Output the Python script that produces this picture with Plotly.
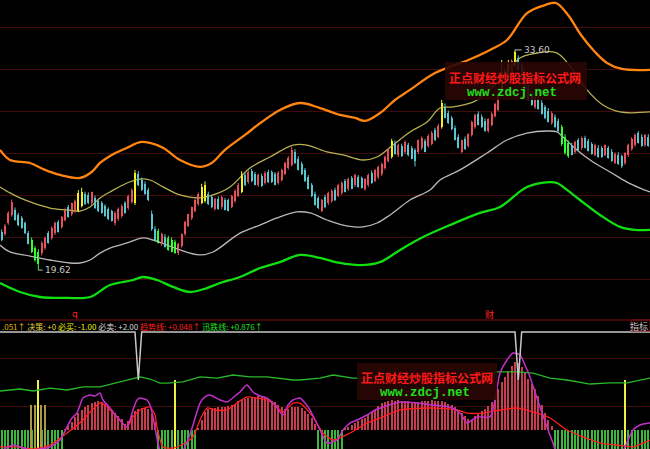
import plotly.graph_objects as go

# ---------------- main pane: candles (price) ----------------
opens = [22.05, 21.90, 22.60, 23.10, 23.45, 23.10, 22.90, 22.60, 22.00, 21.55,
         21.05, 20.80, 20.70, 21.00, 21.95, 21.65, 21.95, 22.65, 22.35, 22.80,
         23.60, 23.15, 23.35, 23.40, 23.70, 24.45, 24.40, 23.85, 24.20, 24.00,
         23.85, 23.70, 23.50, 23.35, 22.60, 22.85, 23.05, 23.85, 23.55, 23.95,
         23.90, 25.70, 25.35, 25.10, 24.70, 23.20, 22.25, 22.10, 21.25, 21.75,
         21.65, 21.55, 21.40, 20.70, 21.15, 21.90, 22.45, 22.90, 23.40, 23.80,
         23.90, 24.00, 24.45, 24.25, 23.50, 24.15, 23.60, 24.05, 24.05, 23.65,
         24.00, 24.35, 24.60, 25.65, 25.20, 25.90, 25.70, 25.00, 25.60, 25.15,
         25.85, 25.85, 25.70, 25.15, 25.35, 25.75, 26.10, 26.30, 27.10, 26.70,
         26.35, 25.95, 25.50, 25.00, 24.45, 24.20, 23.40, 24.25, 23.85, 24.00,
         24.70, 24.35, 24.50, 25.25, 24.75, 25.45, 25.00, 25.50, 25.45, 24.75,
         25.00, 25.80, 25.30, 25.50, 25.70, 26.10, 26.55, 26.80, 27.70, 26.90,
         27.50, 27.10, 27.55, 27.35, 27.25, 27.10, 27.35, 27.80, 27.50, 27.65,
         28.50, 28.10, 28.70, 30.00, 29.60, 29.25, 28.65, 28.10, 27.15, 27.95,
         27.50, 28.20, 28.70, 29.55, 29.35, 29.10, 28.45, 28.85, 29.40, 29.80,
         31.00, 31.50, 31.70, 32.10, 32.60, 33.10, 32.60, 32.00, 31.30, 30.85,
         29.95, 30.50, 30.25, 29.95, 29.75, 28.95, 29.35, 29.10, 28.70, 28.10,
         27.70, 27.55, 27.10, 27.85, 27.35, 28.00, 27.80, 27.60, 26.95, 27.40,
         27.40, 26.95, 27.35, 27.15, 26.45, 26.95, 26.85, 26.40, 26.90, 27.30,
         27.55, 28.30, 28.10, 27.55, 28.10]
highs = [22.20, 22.55, 23.35, 24.10, 23.60, 23.25, 23.05, 22.70, 22.10, 21.70,
         21.15, 20.95, 21.45, 21.75, 22.10, 22.40, 22.70, 22.80, 23.05, 23.55,
         23.75, 23.90, 24.10, 24.70, 24.85, 24.60, 24.55, 24.60, 24.35, 24.15,
         24.00, 23.80, 23.60, 23.45, 23.35, 23.60, 23.80, 24.00, 24.40, 24.80,
         25.98, 25.90, 25.50, 25.25, 24.85, 23.40, 22.40, 22.25, 22.00, 21.90,
         21.80, 21.70, 21.55, 21.35, 21.95, 22.75, 23.20, 23.65, 24.15, 24.55,
         25.10, 25.25, 24.60, 24.40, 24.20, 24.30, 24.35, 24.20, 24.15, 24.40,
         24.75, 25.15, 25.90, 25.80, 25.95, 26.05, 25.85, 25.75, 25.75, 25.90,
         26.00, 25.95, 25.85, 25.90, 26.05, 26.50, 26.85, 27.44, 27.30, 26.85,
         26.50, 26.10, 25.65, 25.15, 24.60, 24.30, 24.15, 24.40, 24.60, 24.75,
         24.85, 25.10, 25.25, 25.40, 25.50, 25.60, 25.75, 25.65, 25.55, 25.45,
         25.75, 25.95, 26.05, 26.25, 26.45, 26.90, 27.35, 27.95, 27.85, 27.65,
         27.65, 27.85, 27.70, 27.50, 27.35, 27.90, 28.10, 27.95, 28.25, 28.45,
         28.65, 28.90, 30.42, 30.20, 29.75, 29.40, 28.80, 28.25, 27.90, 28.10,
         28.30, 29.10, 29.55, 29.70, 29.50, 29.25, 29.25, 29.65, 30.25, 30.93,
         32.96, 32.45, 32.96, 33.00, 33.60, 33.25, 32.75, 32.15, 31.45, 31.00,
         30.70, 30.65, 30.40, 30.10, 29.90, 29.70, 29.50, 29.25, 28.85, 28.25,
         27.85, 27.70, 27.85, 28.00, 28.10, 28.15, 27.95, 27.75, 27.65, 27.55,
         27.50, 27.60, 27.50, 27.30, 27.10, 27.10, 26.95, 27.10, 27.65, 28.05,
         28.30, 28.45, 28.25, 28.25, 28.25]
lows = [21.45, 21.80, 22.50, 23.00, 22.75, 22.40, 22.25, 21.90, 21.25, 20.70,
        20.15, 19.62, 20.55, 20.90, 21.30, 21.55, 21.85, 22.00, 22.25, 22.70,
        22.95, 23.05, 23.25, 23.30, 23.60, 23.75, 23.80, 23.75, 23.50, 23.30,
        23.20, 23.00, 22.80, 22.70, 22.45, 22.75, 22.95, 23.20, 23.45, 23.85,
        23.75, 24.95, 24.65, 24.40, 24.00, 22.10, 21.45, 21.30, 21.15, 21.05,
        20.85, 20.75, 20.65, 20.58, 21.05, 21.80, 22.35, 22.80, 23.30, 23.70,
        23.80, 23.90, 23.75, 23.55, 23.40, 23.45, 23.50, 23.40, 23.35, 23.55,
        23.90, 24.25, 24.50, 24.95, 25.10, 25.20, 25.00, 24.90, 24.90, 25.05,
        25.15, 25.15, 25.00, 25.05, 25.25, 25.65, 26.00, 26.20, 26.35, 25.95,
        25.65, 25.20, 24.75, 24.25, 23.70, 23.50, 23.30, 23.55, 23.75, 23.90,
        24.00, 24.25, 24.40, 24.55, 24.65, 24.75, 24.90, 24.85, 24.80, 24.65,
        24.90, 25.10, 25.20, 25.40, 25.60, 26.00, 26.45, 26.70, 26.95, 26.80,
        26.80, 27.00, 26.85, 26.65, 26.20, 27.00, 27.25, 27.10, 27.40, 27.55,
        27.80, 28.00, 28.60, 29.25, 28.90, 28.50, 27.85, 27.35, 27.05, 27.25,
        27.40, 28.10, 28.60, 28.80, 28.65, 28.40, 28.35, 28.75, 29.30, 29.70,
        30.90, 31.40, 31.60, 32.00, 32.50, 32.30, 31.75, 31.10, 30.40, 30.05,
        29.85, 29.80, 29.50, 29.20, 29.00, 28.85, 28.65, 28.40, 27.50, 26.95,
        26.75, 26.90, 27.00, 27.20, 27.25, 27.35, 27.15, 26.95, 26.85, 26.75,
        26.75, 26.85, 26.70, 26.50, 26.35, 26.30, 26.10, 26.30, 26.80, 27.20,
        27.45, 27.65, 27.45, 27.45, 27.45]
closes = [21.50, 22.45, 23.25, 23.95, 22.80, 22.50, 22.30, 21.95, 21.30, 20.80,
          20.25, 20.00, 21.35, 21.65, 21.35, 22.30, 22.60, 22.05, 23.00, 23.45,
          23.00, 23.85, 24.00, 24.50, 24.60, 23.80, 23.85, 24.55, 23.55, 23.35,
          23.25, 23.05, 22.85, 22.75, 23.25, 23.50, 23.70, 23.25, 24.30, 24.70,
          25.80, 25.00, 24.70, 24.45, 24.05, 22.20, 21.50, 21.35, 21.90, 21.10,
          20.90, 20.80, 20.70, 21.25, 21.90, 22.65, 23.15, 23.60, 24.10, 24.45,
          24.90, 25.05, 23.80, 23.60, 24.15, 23.50, 24.25, 23.45, 23.40, 24.35,
          24.65, 25.05, 25.70, 25.00, 25.85, 25.25, 25.05, 25.65, 24.95, 25.80,
          25.20, 25.20, 25.05, 25.80, 25.95, 26.45, 26.75, 27.25, 26.40, 26.00,
          25.70, 25.25, 24.80, 24.30, 23.75, 23.55, 24.05, 23.60, 24.50, 24.65,
          24.05, 25.00, 25.15, 24.60, 25.40, 24.80, 25.65, 24.90, 24.85, 25.40,
          25.65, 25.15, 25.95, 26.15, 26.35, 26.80, 27.25, 27.80, 27.00, 27.55,
          26.85, 27.75, 26.90, 26.70, 26.55, 27.85, 28.00, 27.15, 28.15, 28.35,
          27.85, 28.80, 30.20, 29.30, 28.95, 28.55, 27.90, 27.40, 27.85, 27.30,
          28.25, 29.05, 29.45, 28.85, 28.70, 28.45, 29.20, 29.55, 30.15, 30.85,
          32.20, 32.35, 32.70, 32.90, 33.45, 32.35, 31.80, 31.15, 30.45, 30.10,
          30.60, 29.85, 29.55, 29.25, 29.05, 29.60, 28.70, 28.45, 27.60, 27.05,
          26.85, 26.95, 27.75, 27.25, 28.00, 27.40, 27.20, 27.00, 27.55, 26.80,
          26.80, 27.55, 26.75, 26.55, 27.00, 26.35, 26.20, 27.05, 27.55, 27.95,
          28.20, 27.70, 27.50, 28.20, 27.50]
# r = up, c = down, y = upper-band signal, g = lower-band signal
kinds = ("crrrcccccg" "ggrrcrrcrr" "crryyccrcc" "ccccrrrcrr" "yccccccgrc"
         "gggrrrrrrr" "yyccrcrccr" "rrycrccrcr" "cccrrrrrcc" "ccccccrcrr"
         "crrcrcrccr" "rcrrrrrycr" "crcccrrcrr" "crycccccrc" "rrrcccrrrr"
         "yryryccccc" "rccccrccgg" "gcrcrcccrc" "crccrccrrr" "rccrc")
assert len(opens) == len(highs) == len(lows) == len(closes) == len(kinds)

# ---------------- main pane: bands ----------------
orange_x = [-0.5, 2.5, 8.5, 13, 17.5, 23.5, 27, 29.5, 33, 37.5, 41.5, 44.5, 48.5, 53.5, 59.5,
            63, 67, 73, 78, 83.5, 89.5, 95.5, 101.5, 106, 109, 113.5, 118, 122.5, 130, 140,
            146.5, 151.6, 157.6, 163, 166.3, 169.9, 173.8, 178, 181.6, 186.1, 194.5]
orange_v = [27.25, 26.61, 26.42, 25.98, 25.66, 25.47, 25.85, 26.42, 26.93, 27.37, 27.75, 27.69,
            27.37, 26.61, 26.17, 26.42, 27.25, 28.20, 29.02, 29.79, 30.23, 29.91, 29.47, 29.28,
            29.09, 29.59, 30.42, 31.06, 32.13, 32.96, 33.60, 34.23, 35.94, 36.45, 36.58, 35.82,
            34.55, 33.47, 32.77, 32.39, 32.33]
upper_x = [-0.5, 2.5, 5.5, 9.4, 14.5, 19.6, 23.5, 26.5, 29.5, 32.5, 37.6, 41.5, 44.5, 48.4, 53.5,
           59.5, 63.4, 68.5, 74.5, 80.5, 87.4, 91.6, 97.6, 102.4, 108.4, 112.6, 117.4, 122.5,
           127.6, 131.5, 135.4, 141.4, 143.5, 149.5, 155.5, 160.6, 165.4, 167.5, 171.4, 175.6,
           180.4, 185.5, 194.5]
upper_v = [24.90, 24.52, 24.20, 23.88, 23.56, 23.44, 23.37, 23.63, 24.20, 24.58, 25.15, 25.40,
           25.34, 24.90, 24.39, 24.20, 24.39, 24.90, 26.10, 26.80, 27.56, 27.56, 27.12, 26.93,
           26.61, 26.80, 27.56, 28.39, 29.02, 29.91, 29.98, 30.29, 30.55, 31.69, 33.09, 33.40,
           33.47, 33.28, 32.33, 31.06, 30.10, 29.66, 29.66]
mid_x = [-0.5, 2.5, 8.5, 14.5, 20.5, 23.5, 26.5, 29.5, 32.5, 37.6, 42.4, 45.4, 49.6, 53.5, 59.5,
         63.4, 71.5, 77.5, 82.6, 88.6, 92.5, 97.6, 102.4, 108.4, 112.6, 116.5, 122.5, 128.5,
         131.5, 137.5, 145.6, 151.6, 157.6, 163.6, 166.6, 168.4, 172.6, 177.4, 182.5, 187.6,
         191.5, 194.5]
mid_v = [21.21, 20.77, 20.51, 20.26, 20.07, 20.07, 20.26, 20.70, 21.02, 21.34, 21.66, 21.53,
         21.21, 20.90, 20.58, 20.77, 21.97, 22.48, 22.93, 23.31, 23.25, 22.80, 22.48, 22.36,
         22.61, 23.12, 24.07, 24.71, 25.34, 25.98, 27.05, 27.88, 28.32, 28.45, 28.39, 28.07,
         27.25, 26.48, 25.85, 25.21, 24.83, 24.58]
lower_x = [-0.5, 5.5, 11.5, 19.6, 26.5, 32.5, 39.4, 42.4, 46.6, 51.4, 56.5, 61.6, 65.5, 71.5,
           77.5, 83.5, 89.5, 95.5, 101.5, 107.5, 113.5, 119.5, 126.4, 134.5, 143.5, 149.5,
           157.6, 164.5, 166.6, 169.6, 173.5, 179.5, 185.5, 190, 194.5]
lower_v = [18.80, 18.23, 17.91, 17.85, 17.91, 18.67, 18.99, 19.18, 18.99, 18.55, 18.23, 18.48,
           18.80, 19.18, 19.75, 20.13, 20.58, 20.39, 20.07, 19.94, 20.13, 20.90, 21.72, 22.48,
           23.25, 23.63, 24.90, 25.21, 25.15, 24.71, 24.07, 23.12, 22.36, 22.17, 22.17]

# ---------------- lower pane: indicator ----------------
hist = [-20, -20, -20, -20, -20, -20, -20, -20, -20, -20, -20, -20, -20, -20, -20, -20, -20, -20, -20,
        1,
        4, 8, 13, 17, 20, 23, 26, 28, 29, 30, 29, 27, 24, 20, 17, 14, 11, 6, 9, 15, 19, 21, 22, 22,
        21, 16, 8,
        -20, -20, -20, -20, -20, -20, -20, -20, -20, -20, -20, -20,
        2,
        10, 18, 21, 22, 22, 23, 23, 23, 24, 25, 27, 30, 31, 32, 33, 34, 34, 35, 34, 33, 32, 30, 29,
        26, 23, 21, 21, 23, 23, 23, 22, 19, 16, 12, 6,
        -20, -20, -20, -20, -20, -20, -20, -20,
        2, 3, 5, 7, 9, 11, 12, 15, 18, 20, 24, 28, 29, 30, 31, 30, 31, 30, 30, 30, 29, 28, 29, 30,
        30, 30, 31, 30, 30, 30, 29, 27, 25, 23, 20, 17, 14, 11, 10, 14, 17, 19, 21, 24, 29, 33, 42,
        49, 54, 60, 65, 69, 68, 64, 59, 52, 47, 42, 35, 26, 17, 10, 4,
        -20, -20, -20, -20, -20, -20, -20, -20, -20, -20, -20, -20, -20, -20, -20, -20, -20, -20,
        -20, -20, -20, -20, -20, -20, -20, -20, -20, -20, -20]
assert len(hist) == len(closes)
signal_x = [9, 10, 11, 12, 13, 52, 187]
signal_top = [25, 25, 51, 25, 25, 51, 51]
signal_strong = [False, False, True, False, False, True, True]

top_x = [-0.5, 40, 41, 42, 154, 155, 156, 194.5]
top_v = [100, 100, 51, 100, 100, 51, 100, 100]

trend_x = [-0.5, 5.5, 9.4, 14.5, 19.6, 24.4, 29.5, 34.6, 38.5, 41.5, 44.5, 47.5, 49.6, 54.4, 59.5,
           64.6, 69.4, 74.5, 79.6, 84.4, 87.4, 89.5, 95.5, 99.4, 105.4, 113.5, 125.5, 137.5, 148.6,
           154.6, 159.4, 164.5, 169.6, 176.5, 182.5, 187.6, 194.5]
trend_v = [39.8, 41.8, 39.8, 42.8, 40.8, 43.9, 43.9, 47.9, 51.0, 54.1, 52.0, 47.9, 47.9, 49.0, 54.1,
           53.0, 56.1, 54.1, 54.1, 52.0, 51.0, 51.0, 53.0, 56.1, 53.0, 53.0, 55.1, 54.1, 59.2, 59.2,
           58.1, 53.0, 51.0, 46.9, 48.0, 48.0, 53.0]

fast_x = [-0.5, 3.4, 8.5, 14.5, 17.5, 19.6, 21.1, 22.6, 24.4, 26.5, 28, 29.5, 30.4, 32.5, 34.6, 37.6,
          39.4, 40.6, 41.5, 43.6, 44.5, 45.4, 46.9, 48.1, 53.5, 55.9, 57.4, 59.5, 61, 62.5, 65.5,
          67.6, 70, 71.5, 73.6, 75.4, 77.5, 79.6, 82, 84.4, 85.9, 87.4, 89.5, 91, 92.5, 95.5, 97.6,
          100.6, 102.4, 104.5, 106.6, 109.6, 112, 114.4, 119.5, 124.6, 129.4, 134.5, 137.5, 139.6,
          141.1, 142.6, 146.5, 148, 149.5, 151.6, 153.4, 155.5, 157, 158.5, 160, 161.5, 163.6,
          165.4, 166.9, 185.5, 187.9, 189.4, 191.5, 194.5]
fast_v = [-22, -15.3, -20.4, -17.3, -10.2, 3.1, 12.2, 17.3, 32.6, 35.7, 34.7, 37.7, 30.6, 22.4, 13.3,
          3.1, 20.4, 30.6, 32.6, 30.6, 25.5, 13.3, -13.3, -25.5, -25.5, -10.2, 5.1, 27.5, 33.7,
          35.7, 30.6, 28.6, 34.7, 38.8, 45.9, 38.8, 34.7, 32.6, 25.5, 15.3, 25.5, 30.6, 32.6, 27.5,
          20.4, 0, -13.3, -10.2, 0, 7.1, 10.2, 15.3, 20.4, 23.5, 28.6, 27.5, 25.5, 23.5, 17.3, 7.1,
          10.2, 13.3, 13.3, 30.6, 58.1, 71.4, 78.5, 76.5, 66.3, 54.1, 38.8, 23.5, 3.1, -13.3, -25.5,
          -25.5, -10.2, 0, 5.1, 7.1]
slow_x = [-0.5, 4.6, 10, 14.5, 19.6, 22, 24.4, 27.1, 29.5, 31, 32.5, 34.9, 37.6, 39.4, 41.5, 44.5,
          46, 46.6, 48.4, 51.4, 55, 57.4, 59.5, 61.6, 64, 67.6, 70.6, 73.6, 76.6, 79.6, 82, 84.4,
          87.4, 89.5, 93.4, 96.4, 99.4, 104.5, 109.6, 114.4, 119.5, 129.4, 136.6, 139.6, 144.4,
          149.5, 154.6, 159.4, 164.5, 169.6, 174.4, 179.5, 184.6, 189.4, 192.4, 194.5]
slow_v = [-17.3, -17.3, -19.4, -15.3, -3.1, 3.1, 10.2, 20.4, 27.5, 25.5, 20.4, 12.2, 3.1, 13.3, 20.4,
          23.5, 15.3, 3.1, -17.3, -18.4, -13.3, -7.1, 10.2, 22.4, 20.4, 20.4, 27.5, 33.7, 32.6,
          30.6, 25.5, 18.4, 27.5, 27.5, 13.3, -3.1, -10.2, -3.1, 7.1, 13.3, 20.4, 22.4, 20.4, 17.3,
          17.3, 20.4, 22.4, 18.4, 12.2, 0, -7.1, -13.3, -15.3, -17.3, -13.3, -10.2]

info_text = ("<span style='color:#e0b000'>.051↑</span> "
             "<span style='color:#e0d040'>决策: +0</span> "
             "<span style='color:#f0f000'>必买: -1.00</span> "
             "<span style='color:#d8d8d8'>必卖: +2.00</span> "
             "<span style='color:#ff2020'>趋势线: +0.048↑</span> "
             "<span style='color:#20e020'>迅跌线: +0.876↑</span>")

# ---------------- figure ----------------
fig = go.Figure()
idx = list(range(len(closes)))
palette = {'r': '#e8505c', 'c': '#58c8d0', 'y': '#f4f020', 'g': '#30ff30'}

band_specs = [(orange_x, orange_v, '#ff8410', 2.3), (upper_x, upper_v, '#b8b050', 1.3),
              (mid_x, mid_v, '#b8b8b8', 1.3), (lower_x, lower_v, '#10e010', 2.3)]
for bx, bv, col, w in band_specs:
    fig.add_trace(go.Scatter(x=bx, y=bv, mode='lines', line=dict(color=col, width=w, shape='spline', smoothing=1.0),
                             hoverinfo='skip', yaxis='y'))

for k, col in palette.items():
    sel = [i for i in idx if kinds[i] == k]
    wx, wy = [], []
    for i in sel:
        wx += [i, i, None]
        wy += [lows[i], highs[i], None]
    fig.add_trace(go.Scatter(x=wx, y=wy, mode='lines', line=dict(color=col, width=1),
                             hoverinfo='skip', yaxis='y'))
    fig.add_trace(go.Bar(x=sel, y=[abs(closes[i] - opens[i]) for i in sel],
                         base=[min(opens[i], closes[i]) for i in sel], width=0.62,
                         marker=dict(color=col, line=dict(width=0)), yaxis='y'))

pos = [i for i in idx if hist[i] > 0]
neg = [i for i in idx if hist[i] < 0]
fig.add_trace(go.Bar(x=pos, y=[hist[i] for i in pos], width=0.4, marker=dict(color='#c83c50', line=dict(width=0)), yaxis='y2'))
fig.add_trace(go.Bar(x=neg, y=[hist[i] for i in neg], width=0.4, marker=dict(color='#3cb83c', line=dict(width=0)), yaxis='y2'))
for sx, st, strong in zip(signal_x, signal_top, signal_strong):
    fig.add_trace(go.Bar(x=[sx], y=[st + 20], base=[-20], width=0.55 if strong else 0.45,
                         marker=dict(color='#f0f040' if strong else '#a89848', line=dict(width=0)), yaxis='y2'))
fig.add_trace(go.Scatter(x=trend_x, y=trend_v, mode='lines', line=dict(color='#28b828', width=1.3), hoverinfo='skip', yaxis='y2'))
fig.add_trace(go.Scatter(x=slow_x, y=slow_v, mode='lines', line=dict(color='#ff2020', width=1.3, shape='spline', smoothing=0.6), hoverinfo='skip', yaxis='y2'))
fig.add_trace(go.Scatter(x=fast_x, y=fast_v, mode='lines', line=dict(color='#c030c8', width=1.5, shape='spline', smoothing=0.6), hoverinfo='skip', yaxis='y2'))
fig.add_trace(go.Scatter(x=top_x, y=top_v, mode='lines', line=dict(color='#c8c8c8', width=1.5), hoverinfo='skip', yaxis='y2'))

H = 449.0
W = 650.0
def py(p):
    return 1 - p / H
def px(p):
    return p / W

shapes = [
    dict(type='line', xref='paper', yref='paper', x0=0, x1=1, y0=py(320), y1=py(320), line=dict(color='#801010', width=1)),
    dict(type='rect', xref='paper', yref='paper', x0=px(631), x1=1.0, y0=py(331), y1=py(320), line=dict(color='#801010', width=1)),
    dict(type='line', xref='x', yref='y', x0=11, x1=12.3, y0=19.62, y1=19.62, line=dict(color='#c0c0c0', width=1)),
    dict(type='line', xref='x', yref='y', x0=154, x1=156.0, y0=33.60, y1=33.60, line=dict(color='#c0c0c0', width=1)),
    dict(type='rect', xref='paper', yref='paper', x0=px(445), x1=px(587), y0=py(100), y1=py(62),
         fillcolor='rgba(42,6,6,0.9)', line=dict(width=0), layer='above'),
    dict(type='rect', xref='paper', yref='paper', x0=px(357), x1=px(497), y0=py(400), y1=py(363),
         fillcolor='rgba(42,6,6,0.9)', line=dict(width=0), layer='above'),
]

cjk = 'Noto Sans CJK SC'
annotations = [
    dict(xref='paper', yref='paper', x=0.0, y=py(326), xanchor='left', yanchor='middle', showarrow=False,
         text=info_text, font=dict(family=cjk, size=8)),
    dict(xref='paper', yref='paper', x=1.0, y=py(326), xanchor='right', yanchor='middle', showarrow=False,
         text='指标', font=dict(family=cjk, size=9, color='#c8c8c8')),
    dict(xref='paper', yref='paper', x=px(75), y=py(314), xanchor='center', yanchor='middle', showarrow=False,
         text='q', font=dict(family='DejaVu Sans', size=9, color='#ff2020')),
    dict(xref='paper', yref='paper', x=px(489), y=py(314), xanchor='center', yanchor='middle', showarrow=False,
         text='财', font=dict(family=cjk, size=9, color='#ff2020')),
    dict(xref='x', yref='y', x=12.4, y=19.62, xanchor='left', yanchor='middle', showarrow=False,
         text='19.62', font=dict(family='DejaVu Sans', size=9, color='#c8c8c8')),
    dict(xref='x', yref='y', x=156.2, y=33.60, xanchor='left', yanchor='middle', showarrow=False,
         text='33.60', font=dict(family='DejaVu Sans', size=9, color='#c8c8c8')),
    dict(xref='paper', yref='paper', x=px(515), y=py(77), xanchor='center', yanchor='middle', showarrow=False,
         text='<b>正点财经炒股指标公式网</b>', font=dict(family=cjk, size=12, color='#ff1818')),
    dict(xref='paper', yref='paper', x=px(512), y=py(93), xanchor='center', yanchor='middle', showarrow=False,
         text='<b>www.zdcj.net</b>', font=dict(family='Liberation Mono', size=12.5, color='#20e020')),
    dict(xref='paper', yref='paper', x=px(427), y=py(377), xanchor='center', yanchor='middle', showarrow=False,
         text='<b>正点财经炒股指标公式网</b>', font=dict(family=cjk, size=12, color='#ff1818')),
    dict(xref='paper', yref='paper', x=px(425), y=py(393), xanchor='center', yanchor='middle', showarrow=False,
         text='<b>www.zdcj.net</b>', font=dict(family='Liberation Mono', size=12.5, color='#20e020')),
]

fig.update_layout(
    width=650, height=449, margin=dict(l=0, r=0, t=0, b=0),
    paper_bgcolor='black', plot_bgcolor='black', showlegend=False,
    barmode='overlay', bargap=0,
    xaxis=dict(range=[-0.5, 194.5], showgrid=False, zeroline=False, showticklabels=False, ticks='', showline=False),
    yaxis=dict(domain=[py(320), 1.0], range=[16.45, 36.77], showgrid=True, gridcolor='#420c0c', gridwidth=1,
               tick0=19.05, dtick=2.66, zeroline=False, showticklabels=False, ticks='', anchor='x'),
    yaxis2=dict(domain=[0.0, py(331)], range=[-19.4, 101.0], showgrid=True, gridcolor='#420c0c', gridwidth=1,
                tick0=23.5, dtick=49.9, zeroline=False, showticklabels=False, ticks='', anchor='x'),
    shapes=shapes, annotations=annotations,
)

fig.write_html("out.html", config={'displayModeBar': False},
               post_script="document.body.style.margin='0';document.body.style.overflow='hidden';document.body.style.background='black';")
